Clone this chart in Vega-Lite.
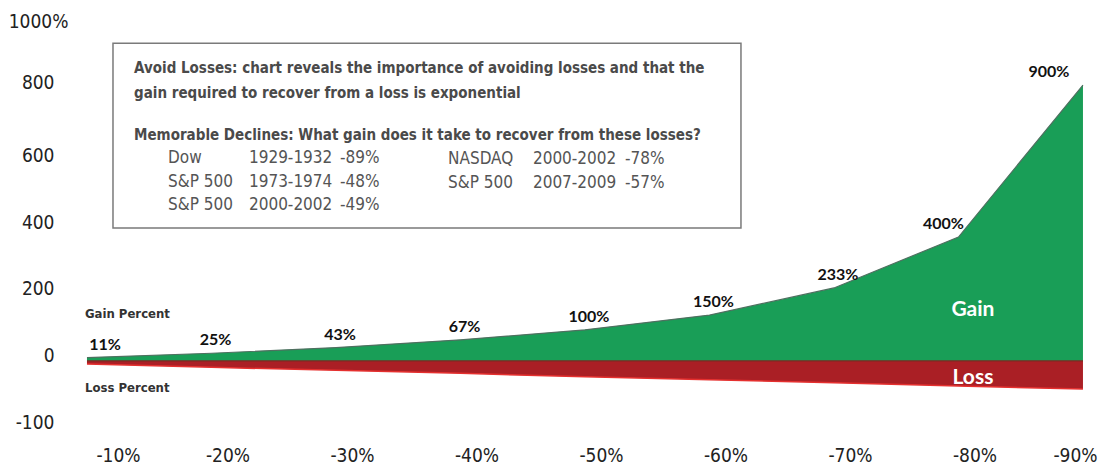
{
  "$schema": "https://vega.github.io/schema/vega-lite/v6.json",
  "autosize": {"type": "none"},
  "width": 1025,
  "height": 430,
  "padding": {"left": 80, "top": 10, "right": 7, "bottom": 26},
  "background": "white",
  "config": {"view": {"stroke": null}},
  "data": {"values": [
    {"idx": 1, "loss": "-10%", "gain": 10, "lossv": -9, "label": "11%"},
    {"idx": 2, "loss": "-20%", "gain": 23, "lossv": -19, "label": "25%"},
    {"idx": 3, "loss": "-30%", "gain": 40, "lossv": -28, "label": "43%"},
    {"idx": 4, "loss": "-40%", "gain": 63, "lossv": -37, "label": "67%"},
    {"idx": 5, "loss": "-50%", "gain": 93, "lossv": -47, "label": "100%"},
    {"idx": 6, "loss": "-60%", "gain": 137, "lossv": -56, "label": "150%"},
    {"idx": 7, "loss": "-70%", "gain": 218, "lossv": -65, "label": "233%"},
    {"idx": 8, "loss": "-80%", "gain": 370, "lossv": -75, "label": "400%"},
    {"idx": 9, "loss": "-90%", "gain": 824, "lossv": -84, "label": "900%"}
  ]},
  "layer": [
    {
      "mark": {"type": "area", "color": "#199E57", "opacity": 1},
      "encoding": {
        "x": {"field": "idx", "type": "quantitative",
          "scale": {"domain": [0.944, 9.177], "nice": false, "zero": false},
          "axis": {"title": null, "values": [1,2,3,4,5,6,7,8,9], "domain": false, "ticks": false, "tickSize": 0, "grid": false,
            "labelExpr": "'-' + (datum.value*10) + '%'",
            "labelFont": "Liberation Sans Narrow, DejaVu Sans Condensed, sans-serif", "labelFontSize": 19, "labelColor": "#222",
            "labelPadding": 6,
            "labelOffset": {"condition": [{"test": "datum.value == 1", "value": 31}, {"test": "datum.value == 9", "value": -8}], "value": 16}}},
        "y": {"field": "gain", "type": "quantitative",
          "scale": {"domain": [-236, 1048], "nice": false, "zero": false},
          "axis": {"title": null, "values": [-200, 0, 200, 400, 600, 800, 1000], "domain": false, "ticks": false, "tickSize": 0, "grid": false,
            "labelExpr": "datum.value == 1000 ? '1000%' : datum.value == -200 ? '-100' : '' + datum.value",
            "labelFont": "Liberation Sans Narrow, DejaVu Sans Condensed, sans-serif", "labelFontSize": 19, "labelColor": "#222",
            "labelPadding": {"condition": {"test": "datum.value == 1000", "value": 12}, "value": 26},
            "labelOffset": {"condition": {"test": "datum.value == 800", "value": -11}, "value": -5}}},
        "y2": {"datum": 0}
      }
    },
    {
      "mark": {"type": "line", "color": "#4f7060", "strokeWidth": 1.2},
      "encoding": {"x": {"field": "idx", "type": "quantitative"}, "y": {"field": "gain", "type": "quantitative"}}
    },
    {
      "mark": {"type": "area", "color": "#AA1F25", "opacity": 1},
      "encoding": {
        "x": {"field": "idx", "type": "quantitative"},
        "y": {"field": "lossv", "type": "quantitative"},
        "y2": {"datum": 0}
      }
    },
    {
      "mark": {"type": "line", "color": "#E5302F", "strokeWidth": 1.5},
      "encoding": {"x": {"field": "idx", "type": "quantitative"}, "y": {"field": "lossv", "type": "quantitative"}}
    },
    {
      "data": {"values": [{}]},
      "mark": {"type": "rule", "color": "#7a2a22", "strokeWidth": 1.2},
      "encoding": {"y": {"datum": 0}, "x": {"datum": 1}, "x2": {"datum": 9}}
    },
    {
      "mark": {"type": "text", "font": "Lato, sans-serif", "fontWeight": "bold", "fontSize": 16, "color": "#111", "align": "center", "baseline": "middle",
        "dy": -13,
        "dx": {"expr": "datum.idx == 1 ? 18 : datum.idx == 8 ? -15 : datum.idx == 9 ? -34 : 4"}},
      "encoding": {"x": {"field": "idx", "type": "quantitative"}, "y": {"field": "gain", "type": "quantitative"}, "text": {"field": "label"}}
    },
    {
      "data": {"values": [{}]},
      "mark": {"type": "rect", "fill": "white", "fillOpacity": 0, "stroke": "#7a7a7a", "strokeWidth": 1.5},
      "encoding": {"x": {"datum": 1.209}, "x2": {"datum": 6.253}, "y": {"datum": 949}, "y2": {"datum": 397}}
    },
    {
      "data": {"values": [{}]},
      "mark": {"type": "text", "font": "Liberation Sans Narrow, DejaVu Sans Condensed, sans-serif", "fontWeight": "bold", "fontSize": 15, "color": "#4a4a4a", "align": "left", "baseline": "middle",
        "text": "Avoid Losses: chart reveals the importance of avoiding losses and that the"},
      "encoding": {"x": {"datum": 1.378}, "y": {"datum": 875}}
    },
    {
      "data": {"values": [{}]},
      "mark": {"type": "text", "font": "Liberation Sans Narrow, DejaVu Sans Condensed, sans-serif", "fontWeight": "bold", "fontSize": 15, "color": "#4a4a4a", "align": "left", "baseline": "middle",
        "text": "gain required to recover from a loss is exponential"},
      "encoding": {"x": {"datum": 1.378}, "y": {"datum": 800}}
    },
    {
      "data": {"values": [{}]},
      "mark": {"type": "text", "font": "Liberation Sans Narrow, DejaVu Sans Condensed, sans-serif", "fontWeight": "bold", "fontSize": 15, "color": "#4a4a4a", "align": "left", "baseline": "middle",
        "text": "Memorable Declines: What gain does it take to recover from these losses?"},
      "encoding": {"x": {"datum": 1.378}, "y": {"datum": 675}}
    },
    {
      "data": {"values": [{}]},
      "mark": {"type": "text", "font": "Liberation Sans Narrow, DejaVu Sans Condensed, sans-serif", "fontSize": 17, "color": "#555", "align": "left", "baseline": "middle", "lineHeight": 23.5,
        "text": ["Dow", "S&P 500", "S&P 500"]},
      "encoding": {"x": {"datum": 1.651}, "y": {"datum": 606}}
    },
    {
      "data": {"values": [{}]},
      "mark": {"type": "text", "font": "Liberation Sans Narrow, DejaVu Sans Condensed, sans-serif", "fontSize": 17, "color": "#555", "align": "left", "baseline": "middle", "lineHeight": 23.5,
        "text": ["1929-1932", "1973-1974", "2000-2002"]},
      "encoding": {"x": {"datum": 2.301}, "y": {"datum": 606}}
    },
    {
      "data": {"values": [{}]},
      "mark": {"type": "text", "font": "Liberation Sans Narrow, DejaVu Sans Condensed, sans-serif", "fontSize": 17, "color": "#555", "align": "left", "baseline": "middle", "lineHeight": 23.5,
        "text": ["-89%", "-48%", "-49%"]},
      "encoding": {"x": {"datum": 3.032}, "y": {"datum": 606}}
    },
    {
      "data": {"values": [{}]},
      "mark": {"type": "text", "font": "Liberation Sans Narrow, DejaVu Sans Condensed, sans-serif", "fontSize": 17, "color": "#555", "align": "left", "baseline": "middle", "lineHeight": 23.5,
        "text": ["NASDAQ", "S&P 500"]},
      "encoding": {"x": {"datum": 3.9}, "y": {"datum": 603}}
    },
    {
      "data": {"values": [{}]},
      "mark": {"type": "text", "font": "Liberation Sans Narrow, DejaVu Sans Condensed, sans-serif", "fontSize": 17, "color": "#555", "align": "left", "baseline": "middle", "lineHeight": 23.5,
        "text": ["2000-2002", "2007-2009"]},
      "encoding": {"x": {"datum": 4.582}, "y": {"datum": 603}}
    },
    {
      "data": {"values": [{}]},
      "mark": {"type": "text", "font": "Liberation Sans Narrow, DejaVu Sans Condensed, sans-serif", "fontSize": 17, "color": "#555", "align": "left", "baseline": "middle", "lineHeight": 23.5,
        "text": ["-78%", "-57%"]},
      "encoding": {"x": {"datum": 5.321}, "y": {"datum": 603}}
    },
    {
      "data": {"values": [{}]},
      "mark": {"type": "text", "font": "Liberation Sans Narrow, DejaVu Sans Condensed, sans-serif", "fontWeight": "bold", "fontSize": 13, "color": "#333", "align": "left", "baseline": "middle",
        "text": "Gain Percent"},
      "encoding": {"x": {"datum": 0.984}, "y": {"datum": 140}}
    },
    {
      "data": {"values": [{}]},
      "mark": {"type": "text", "font": "Liberation Sans Narrow, DejaVu Sans Condensed, sans-serif", "fontWeight": "bold", "fontSize": 13, "color": "#333", "align": "left", "baseline": "middle",
        "text": "Loss Percent"},
      "encoding": {"x": {"datum": 0.984}, "y": {"datum": -81}}
    },
    {
      "data": {"values": [{}]},
      "mark": {"type": "text", "font": "Lato, sans-serif", "fontWeight": "bold", "fontSize": 21, "color": "white", "align": "center", "baseline": "middle",
        "text": "Gain"},
      "encoding": {"x": {"datum": 8.116}, "y": {"datum": 152}}
    },
    {
      "data": {"values": [{}]},
      "mark": {"type": "text", "font": "Lato, sans-serif", "fontWeight": "bold", "fontSize": 21, "color": "white", "align": "center", "baseline": "middle",
        "text": "Loss"},
      "encoding": {"x": {"datum": 8.116}, "y": {"datum": -51}}
    }
  ]
}
